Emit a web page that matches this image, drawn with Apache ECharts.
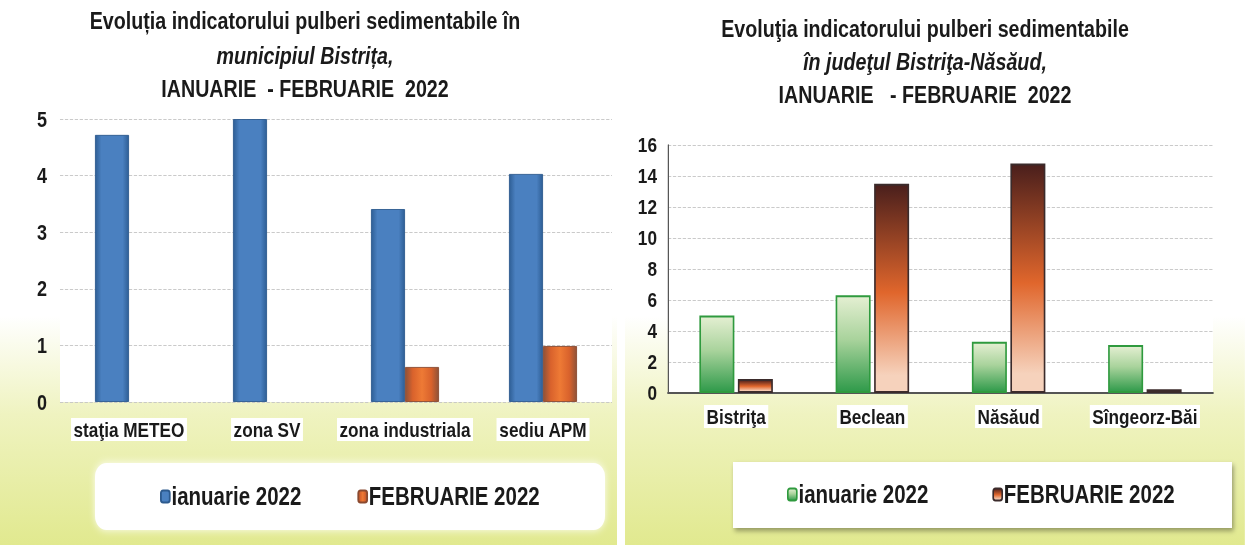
<!DOCTYPE html>
<html>
<head>
<meta charset="utf-8">
<script src="https://cdn.jsdelivr.net/npm/echarts@6/dist/echarts.min.js"></script>
<style>
  body { margin: 0; background: #fff; overflow: hidden; }
  .panel { position: absolute; top: 0; height: 545px; transform-origin: 0 0; }
</style>
</head>
<body>
<div id="chart1" class="panel"></div>
<div id="chart2" class="panel"></div>
<script>
// narrow type like Arial Narrow: draw wide, squeeze the panel horizontally
var S = 0.82;
function sx(v) { return v / S; }
var font = '"Liberation Sans", Arial, sans-serif';

// DATA
var left_categories = ['staţia METEO', 'zona SV', 'zona industriala', 'sediu APM'];
var left_ianuarie = [4.72, 5.0, 3.41, 4.03];
var left_februarie = [null, null, 0.62, 0.99];

var right_categories = ['Bistriţa', 'Beclean', 'Năsăud', 'Sîngeorz-Băi'];
var right_ianuarie = [5.0, 6.3, 3.3, 3.1];
var right_februarie = [0.9, 13.5, 14.8, 0.25];

var series_names = ['ianuarie 2022', 'FEBRUARIE 2022'];

// COLORS
var blue = new echarts.graphic.LinearGradient(0, 0, 1, 0, [
  { offset: 0, color: '#2f5f96' }, { offset: 0.18, color: '#4a80c0' },
  { offset: 0.82, color: '#4a80c0' }, { offset: 1, color: '#2f5f96' }
]);
var orange = new echarts.graphic.LinearGradient(0, 0, 1, 0, [
  { offset: 0, color: '#8f5238' }, { offset: 0.22, color: '#d9622c' },
  { offset: 0.5, color: '#ee7a35' }, { offset: 0.78, color: '#d9622c' }, { offset: 1, color: '#8f5238' }
]);
var green = new echarts.graphic.LinearGradient(0, 0, 0, 1, [
  { offset: 0, color: '#e4efd2' }, { offset: 0.45, color: '#a9d39c' }, { offset: 1, color: '#2f9a4a' }
]);
var brown = new echarts.graphic.LinearGradient(0, 0, 0, 1, [
  { offset: 0, color: '#4a1f1c' }, { offset: 0.52, color: '#e0662c' },
  { offset: 0.92, color: '#f6d2bc' }, { offset: 1, color: '#f6d2bc' }
]);

function panelBg(x, w) {
  return {
    type: 'rect', z: -10, silent: true,
    shape: { x: sx(x), y: 0, width: sx(w), height: 545 },
    style: {
      fill: new echarts.graphic.LinearGradient(0, 0, 0, 1, [
        { offset: 0, color: '#ffffff' }, { offset: 0.58, color: '#ffffff' },
        { offset: 0.76, color: '#eff3c0' }, { offset: 1, color: '#e1e98f' }
      ])
    }
  };
}

function titleLine(text, top, italic) {
  return {
    text: text, left: sx(305), top: top, textAlign: 'center', padding: 0,
    textStyle: { fontFamily: font, fontSize: 24, fontWeight: 'bold',
      fontStyle: italic ? 'italic' : 'normal', color: '#1a1a1a' }
  };
}

function setupPanel(id, left, width) {
  var el = document.getElementById(id);
  el.style.left = left + 'px';
  el.style.width = sx(width) + 'px';
  el.style.transform = 'scaleX(' + S + ')';
  return echarts.init(el, null, { renderer: 'svg' });
}

// CHART 1

var myChart1 = setupPanel('chart1', 0, 620);
var option1 = {
  animation: false,
  title: [
    titleLine('Evoluția indicatorului pulberi sedimentabile în', 9, false),
    titleLine('municipiul Bistrița,', 44, true),
    titleLine('IANUARIE  - FEBRUARIE  2022', 77, false)
  ],
  graphic: [
    panelBg(0, 617),
    {
      type: 'rect', z: 1, silent: true,
      shape: { x: sx(95), y: 463, width: sx(510), height: 67, r: 14 },
      style: { fill: '#fff', shadowBlur: 8, shadowColor: 'rgba(255,255,255,0.9)' }
    }
  ],
  legend: {
    data: series_names, left: sx(160), top: 484, padding: 0, itemGap: sx(56),
    itemWidth: sx(9), itemHeight: 12,
    textStyle: { fontFamily: font, fontSize: 25, fontWeight: 'bold', color: '#1a1a1a', padding: [0, 0, 0, -3] }
  },
  grid: { left: sx(60), top: 119, width: sx(552), height: 283, show: true, backgroundColor: '#fff', borderWidth: 0 },
  xAxis: {
    type: 'category', data: left_categories,
    axisLine: { show: false }, axisTick: { show: false },
    axisLabel: { interval: 0, margin: 16, fontFamily: font, fontSize: 21, fontWeight: 'bold', color: '#1a1a1a',
      backgroundColor: '#fff', padding: [1, 3] }
  },
  yAxis: {
    type: 'value', min: 0, max: 5, interval: 1,
    axisLine: { show: false }, axisTick: { show: false },
    splitLine: { lineStyle: { color: '#c4c4c4', type: [4, 2] } },
    axisLabel: { margin: sx(13), fontFamily: font, fontSize: 22, fontWeight: 'bold', color: '#1a1a1a' }
  },
  series: [
    {
      name: series_names[0], type: 'bar', data: left_ianuarie, barWidth: sx(34), barGap: '0%',
      itemStyle: { color: blue, borderColor: '#2d5a8e', borderWidth: 1 }
    },
    {
      name: series_names[1], type: 'bar', data: left_februarie, barWidth: sx(34),
      itemStyle: { color: orange, borderColor: '#8a4a30', borderWidth: 1 }
    }
  ]
};
myChart1.setOption(option1);

// CHART 2

var myChart2 = setupPanel('chart2', 620, 625);
var option2 = {
  animation: false,
  title: [
    titleLine('Evoluţia indicatorului pulberi sedimentabile', 17, false),
    titleLine('în judeţul Bistriţa-Năsăud,', 50, true),
    titleLine('IANUARIE   - FEBRUARIE  2022', 83, false)
  ],
  graphic: [
    panelBg(5, 620),
    {
      type: 'rect', z: 1, silent: true,
      shape: { x: sx(113), y: 462, width: sx(499), height: 66 },
      style: { fill: '#fff', shadowBlur: 5, shadowOffsetX: 2, shadowOffsetY: 3, shadowColor: 'rgba(0,0,0,0.35)' }
    }
  ],
  legend: {
    data: series_names, left: sx(167), top: 482, padding: 0, itemGap: sx(64),
    itemWidth: sx(9), itemHeight: 12,
    textStyle: { fontFamily: font, fontSize: 25, fontWeight: 'bold', color: '#1a1a1a', padding: [0, 0, 0, -3] }
  },
  grid: { left: sx(48), top: 145, width: sx(545), height: 248, show: true, backgroundColor: '#fff', borderWidth: 0 },
  xAxis: {
    type: 'category', data: right_categories,
    axisLine: { lineStyle: { color: '#555', width: 2 } }, axisTick: { show: false },
    axisLabel: { interval: 0, margin: 12, fontFamily: font, fontSize: 21, fontWeight: 'bold', color: '#1a1a1a',
      backgroundColor: '#fff', padding: [1, 3] }
  },
  yAxis: {
    type: 'value', min: 0, max: 16, interval: 2,
    axisLine: { show: true, lineStyle: { color: '#555', width: 1.5 } }, axisTick: { show: false },
    splitLine: { lineStyle: { color: '#c4c4c4', type: [4, 2] } },
    axisLabel: { margin: sx(11), fontFamily: font, fontSize: 21, fontWeight: 'bold', color: '#1a1a1a' }
  },
  series: [
    {
      name: series_names[0], type: 'bar', data: right_ianuarie, barWidth: sx(35), barGap: '10%',
      itemStyle: { color: green, borderColor: '#2f9a3e', borderWidth: 2 }
    },
    {
      name: series_names[1], type: 'bar', data: right_februarie, barWidth: sx(35),
      itemStyle: { color: brown, borderColor: '#3b2b2b', borderWidth: 2 }
    }
  ]
};
myChart2.setOption(option2);
</script>
</body>
</html>
